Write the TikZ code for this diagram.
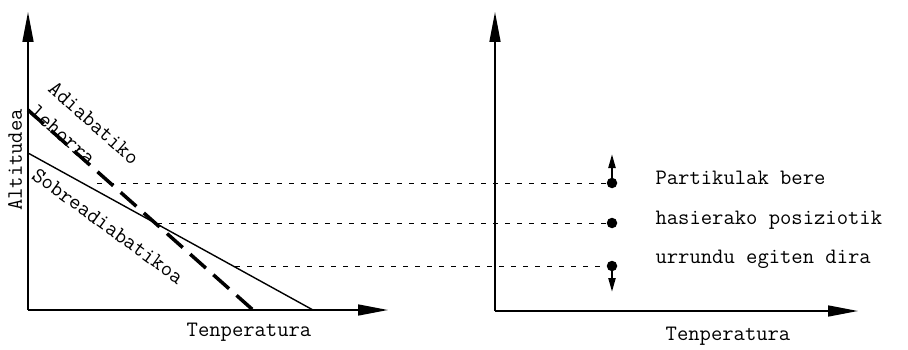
\documentclass[tikz,border=0pt]{standalone}
\usetikzlibrary{arrows.meta}

\begin{document}
\begin{tikzpicture}[x=1pt,y=1pt,
    axis/.style={black, line width=1.6pt, -{Triangle[length=30pt,width=11pt]}},
    guide/.style={black, line width=0.7pt, dash pattern=on 5pt off 7pt},
    dot/.style={circle, fill=black, inner sep=0pt, minimum size=10.5pt},
    move/.style={black, line width=2.2pt, -{Triangle[length=14pt,width=7pt]}},
    lbl/.style={font=\ttfamily\fontsize{22}{26}\selectfont}]
            \def\ya{166}
            \def\yb{126}
            \def\yc{83}
            \def\px{612}

            \useasboundingbox (0,0) rectangle (908,349);

            % left panel
            \coordinate (O1) at (28,39);
            \coordinate (Y1) at (28,337);
            \coordinate (X1) at (388,39);
            \draw[axis] (O1) -- (Y1);
            \draw[axis] (O1) -- (X1);

            \coordinate (s0) at (28,196);
            \coordinate (s1) at (313,39);
            \coordinate (d0) at (28,239);
            \coordinate (d1) at (253,39);
            \draw[black, line width=1.4pt] (s0) -- (s1);
            \draw[black, line width=3.5pt, dash pattern=on 21pt off 10pt] (d0) -- (d1);

            \node[lbl, rotate=90] (alt) at (15,189) {Altitudea};
            \node[lbl, rotate=-41.6] (adi) at (94,226) {Adiabatiko};
            \node[lbl, rotate=-41.6] (leh) at (63,214) {lehorra};
            \node[lbl, rotate=-36] (sob) at (108,123) {Sobreadiabatikoa};
            \node[lbl] (t1) at (249,17) {Tenperatura};

            % right panel
            \coordinate (O2) at (495,38);
            \coordinate (Y2) at (495,337);
            \coordinate (X2) at (858,38);
            \draw[axis] (O2) -- (Y2);
            \draw[axis] (O2) -- (X2);

            \node[dot] (p1) at (\px,\ya) {};
            \node[dot] (p2) at (\px,\yb) {};
            \node[dot] (p3) at (\px,\yc) {};
            \coordinate (g1) at (97,\ya);
            \coordinate (g2) at (157,\yb);
            \coordinate (g3) at (235,\yc);
            \draw[guide] (g1) -- (p1);
            \draw[guide] (g2) -- (p2);
            \draw[guide] (g3) -- (p3);

            \coordinate (u1) at (\px,195);
            \coordinate (u3) at (\px,57);
            \draw[move] (p1) -- (u1);
            \draw[move] (p3) -- (u3);

            \node[lbl, anchor=west] (m1) at (652,171) {Partikulak bere};
            \node[lbl, anchor=west] (m2) at (652,129) {hasierako posiziotik};
            \node[lbl, anchor=west] (m3) at (652,90) {urrundu egiten dira};
            \node[lbl] (t2) at (728,13) {Tenperatura};

        \end{tikzpicture}
\end{document}
